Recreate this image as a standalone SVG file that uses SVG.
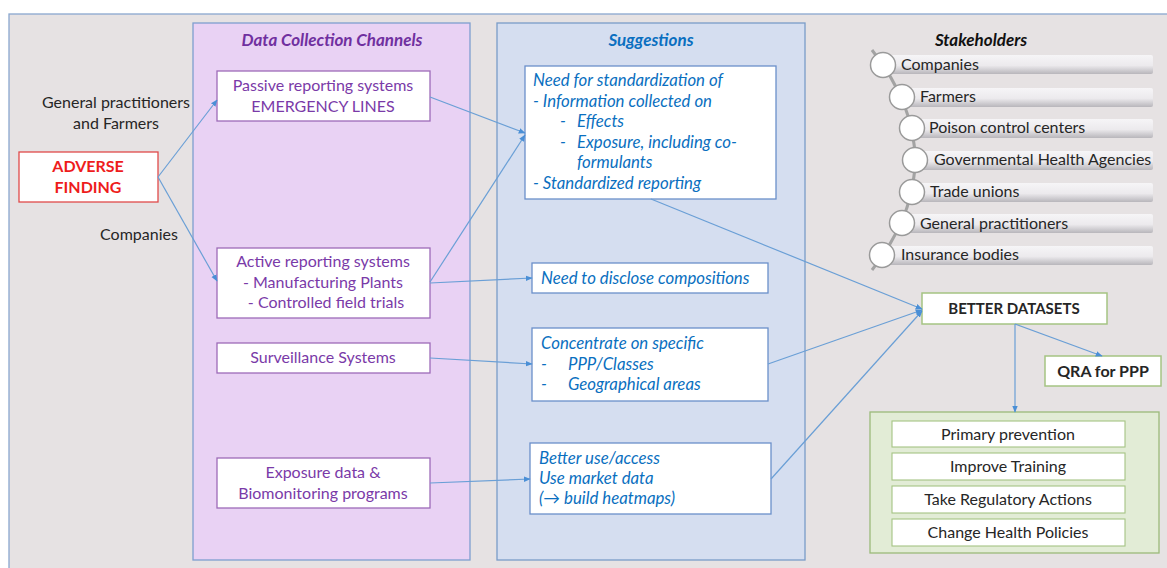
<svg xmlns="http://www.w3.org/2000/svg" width="1167" height="568" viewBox="0 0 1167 568">
<style>
.t{font-family:Lato,"Liberation Sans",sans-serif;font-size:16px}
.ti{font-size:17px;font-weight:bold;font-style:italic}
.pu{fill:#7a3aa8}
.bl{fill:#0a6fc0;font-style:italic;font-size:16.8px}
.dk{fill:#262626}
.bx{fill:#fff;stroke:#9d6ab8;stroke-width:1.3}
.sb{fill:#fff;stroke:#6a8fca;stroke-width:1.3}
.gb{fill:#fff;stroke:#a5c483;stroke-width:1.5}
.cn{fill:none;stroke:#6a9fd6;stroke-width:1.2}
.bar{fill:url(#barg)}
.cir{fill:#fff;stroke:#9a9a9a;stroke-width:1.5}
</style>
<defs>
<marker id="ah" viewBox="0 0 10 10" refX="9" refY="5" markerWidth="7" markerHeight="7" orient="auto" markerUnits="userSpaceOnUse">
<path d="M0,1 L10,5 L0,9 z" fill="#4a8fd6"/>
</marker>
<linearGradient id="barg" x1="0" y1="0" x2="0" y2="1">
<stop offset="0" stop-color="#f6f5f7"/>
<stop offset="0.55" stop-color="#eceaed"/>
<stop offset="1" stop-color="#b8b6bb"/>
</linearGradient>
</defs>
<rect x="0" y="0" width="1167" height="568" fill="#fff"/>
<rect x="9" y="14" width="1170" height="570" fill="#e6e2e3" stroke="#8aa7cf" stroke-width="1.3"/>

<g id="panel-data">
<rect x="193" y="23" width="277" height="537" fill="#e9d2f4" stroke="#7f9fcf" stroke-width="1.3"/>
<text class="t ti" x="332" y="46" text-anchor="middle" style="fill:#7030a0">Data Collection Channels</text>
</g>
<g id="panel-sugg">
<rect x="497" y="23" width="308" height="537" fill="#d5def0" stroke="#7a9cc8" stroke-width="1.3"/>
<text class="t ti" x="651" y="46" text-anchor="middle" style="fill:#0a6fc0">Suggestions</text>
</g>

<g id="label-gp">
<text class="t dk" x="116" y="108" text-anchor="middle">General practitioners</text>
<text class="t dk" x="116" y="129" text-anchor="middle">and Farmers</text>
</g>
<g id="label-comp">
<text class="t dk" x="139" y="240" text-anchor="middle">Companies</text>
</g>
<g id="adverse">
<rect x="19" y="152" width="139" height="50" fill="#fff" stroke="#e04a4a" stroke-width="1.3"/>
<text class="t" x="88" y="172" text-anchor="middle" style="font-weight:bold;fill:#ee1c1c">ADVERSE</text>
<text class="t" x="88" y="193" text-anchor="middle" style="font-weight:bold;fill:#ee1c1c">FINDING</text>
</g>

<g id="passive">
<rect class="bx" x="217" y="71" width="213" height="50"/>
<text class="t pu" x="323" y="91" text-anchor="middle">Passive reporting systems</text>
<text class="t pu" x="323" y="112" text-anchor="middle">EMERGENCY LINES</text>
</g>
<g id="active">
<rect class="bx" x="217" y="248" width="213" height="70"/>
<text class="t pu" x="323" y="267" text-anchor="middle">Active reporting systems</text>
<text class="t pu" x="323" y="288" text-anchor="middle">- Manufacturing Plants</text>
<text class="t pu" x="326" y="308" text-anchor="middle">- Controlled field trials</text>
</g>
<g id="surveillance">
<rect class="bx" x="217" y="343" width="213" height="30"/>
<text class="t pu" x="323" y="363" text-anchor="middle">Surveillance Systems</text>
</g>
<g id="exposure">
<rect class="bx" x="217" y="458" width="213" height="50"/>
<text class="t pu" x="323" y="478" text-anchor="middle">Exposure data &amp;</text>
<text class="t pu" x="323" y="499" text-anchor="middle">Biomonitoring programs</text>
</g>

<g id="standardization">
<rect class="sb" x="525" y="66" width="251" height="133"/>
<text class="t bl" x="533" y="86">Need for standardization of</text>
<text class="t bl" x="533" y="107">- Information collected on</text>
<text class="t bl" x="560" y="127">-</text><text class="t bl" x="577" y="127">Effects</text>
<text class="t bl" x="560" y="148">-</text><text class="t bl" x="577" y="148">Exposure, including co-</text>
<text class="t bl" x="577" y="168">formulants</text>
<text class="t bl" x="533" y="189">- Standardized reporting</text>
</g>
<g id="disclose">
<rect class="sb" x="532" y="263" width="236" height="30"/>
<text class="t bl" x="541" y="284">Need to disclose compositions</text>
</g>
<g id="concentrate">
<rect class="sb" x="532" y="328" width="236" height="73"/>
<text class="t bl" x="541" y="349">Concentrate on specific</text>
<text class="t bl" x="541" y="370">-</text><text class="t bl" x="568" y="370">PPP/Classes</text>
<text class="t bl" x="541" y="390">-</text><text class="t bl" x="568" y="390">Geographical areas</text>
</g>
<g id="betteruse">
<rect class="sb" x="530" y="443" width="241" height="71"/>
<text class="t bl" x="539" y="464">Better use/access</text>
<text class="t bl" x="539" y="484">Use market data</text>
<text class="t bl" x="539" y="504">(→ build heatmaps)</text>
</g>

<g id="stakeholders">
<text class="t ti" x="981" y="46" text-anchor="middle" style="fill:#111">Stakeholders</text>
<path d="M872,50 Q958,160 872,270" fill="none" stroke="#a3a3a3" stroke-width="3"/>
<rect class="bar" x="883" y="55" width="270" height="19" rx="2"/>
<rect class="bar" x="902" y="88" width="251" height="19" rx="2"/>
<rect class="bar" x="912" y="119" width="241" height="19" rx="2"/>
<rect class="bar" x="915" y="151" width="238" height="19" rx="2"/>
<rect class="bar" x="912" y="183" width="241" height="19" rx="2"/>
<rect class="bar" x="902" y="214" width="251" height="19" rx="2"/>
<rect class="bar" x="882" y="246" width="271" height="19" rx="2"/>
<circle class="cir" cx="883" cy="65" r="12.5"/>
<circle class="cir" cx="902" cy="97" r="12.5"/>
<circle class="cir" cx="912" cy="128" r="12.5"/>
<circle class="cir" cx="915" cy="160" r="12.5"/>
<circle class="cir" cx="912" cy="192" r="12.5"/>
<circle class="cir" cx="902" cy="223" r="12.5"/>
<circle class="cir" cx="882" cy="255" r="12.5"/>
<text class="t dk" x="901" y="70">Companies</text>
<text class="t dk" x="920" y="102">Farmers</text>
<text class="t dk" x="929" y="133">Poison control centers</text>
<text class="t dk" x="934" y="165">Governmental Health Agencies</text>
<text class="t dk" x="930" y="197">Trade unions</text>
<text class="t dk" x="920" y="229">General practitioners</text>
<text class="t dk" x="901" y="260">Insurance bodies</text>
</g>

<g id="better-datasets">
<rect class="gb" x="922" y="293" width="185" height="31"/>
<text class="t dk" x="1014" y="314" text-anchor="middle" style="font-weight:bold;font-size:15px">BETTER DATASETS</text>
</g>
<g id="qra">
<rect class="gb" x="1045" y="356" width="116" height="30"/>
<text class="t dk" x="1103" y="377" text-anchor="middle" style="font-weight:bold">QRA for PPP</text>
</g>
<g id="actions">
<rect x="870" y="412" width="289" height="141" fill="#e2ecd6" stroke="#9bbb7a" stroke-width="1.3"/>
<rect class="gb" x="892" y="421" width="233" height="26" style="stroke-width:1.1"/>
<rect class="gb" x="892" y="453" width="233" height="27" style="stroke-width:1.1"/>
<rect class="gb" x="892" y="486" width="233" height="27" style="stroke-width:1.1"/>
<rect class="gb" x="892" y="519" width="233" height="27" style="stroke-width:1.1"/>
<text class="t dk" x="1008" y="440" text-anchor="middle">Primary prevention</text>
<text class="t dk" x="1008" y="472" text-anchor="middle">Improve Training</text>
<text class="t dk" x="1008" y="505" text-anchor="middle">Take Regulatory Actions</text>
<text class="t dk" x="1008" y="538" text-anchor="middle">Change Health Policies</text>
</g>

<g id="connectors">
<path class="cn" d="M158,177 L217,100" marker-end="url(#ah)"/>
<path class="cn" d="M158,177 L217,281" marker-end="url(#ah)"/>
<path class="cn" d="M430,97 L525,133" marker-end="url(#ah)"/>
<path class="cn" d="M430,282 L525,135" marker-end="url(#ah)"/>
<path class="cn" d="M430,283 L532,278" marker-end="url(#ah)"/>
<path class="cn" d="M430,358 L532,364" marker-end="url(#ah)"/>
<path class="cn" d="M430,483 L530,479" marker-end="url(#ah)"/>
<path class="cn" d="M651,199 L922,309" marker-end="url(#ah)"/>
<path class="cn" d="M768,364 L922,310" marker-end="url(#ah)"/>
<path class="cn" d="M771,479 L922,311" marker-end="url(#ah)"/>
<path class="cn" d="M1015,324 L1102,356" marker-end="url(#ah)"/>
<path class="cn" d="M1015,324 L1015,412" marker-end="url(#ah)"/>
</g>
</svg>
